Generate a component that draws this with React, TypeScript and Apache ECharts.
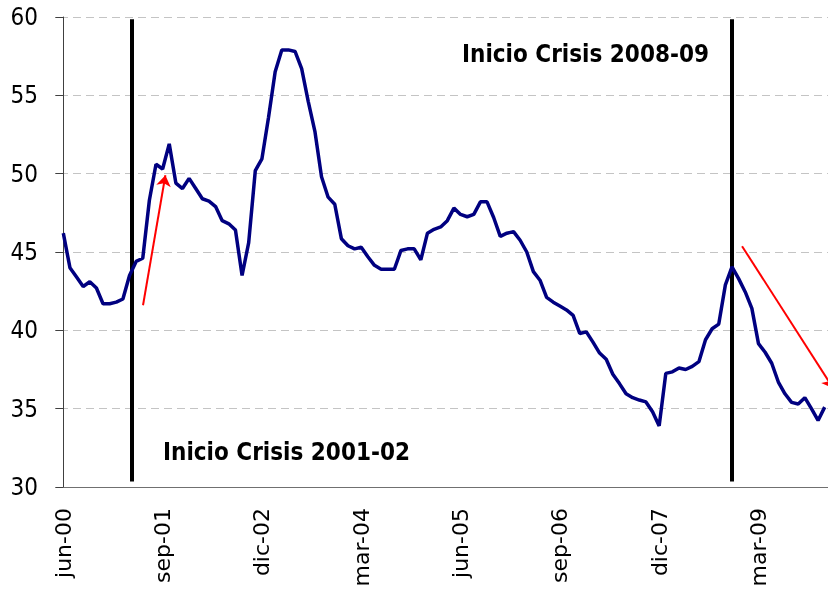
import React, { useEffect, useRef } from "react";
import * as echarts from "echarts";

const monthNames = ["ene", "feb", "mar", "abr", "may", "jun", "jul", "ago", "sep", "oct", "nov", "dic"];
const startYear = 2000;
const startMonth = 5; // jun
const values = [
  46.2, 44.0, 43.4, 42.8, 43.1, 42.7, 41.7, 41.7, 41.8, 42.0,
  43.5, 44.4, 44.6, 48.3, 50.6, 50.3, 51.9, 49.4, 49.05, 49.7,
  49.05, 48.4, 48.25, 47.9, 47.0, 46.8, 46.4, 43.5, 45.6, 50.2,
  50.95, 53.6, 56.5, 57.9, 57.9, 57.8, 56.7, 54.6, 52.7, 49.8,
  48.5, 48.05, 45.85, 45.4, 45.2, 45.3, 44.7, 44.15, 43.9, 43.9,
  43.9, 45.1, 45.2, 45.2, 44.5, 46.2, 46.45, 46.6, 47.0, 47.8,
  47.4, 47.25, 47.4, 48.2, 48.2, 47.2, 46.0, 46.2, 46.3, 45.75,
  45.0, 43.75, 43.2, 42.1, 41.8, 41.55, 41.3, 40.95, 39.8, 39.9,
  39.25, 38.55, 38.15, 37.2, 36.6, 35.95, 35.7, 35.55, 35.43, 34.8,
  33.9, 37.25, 37.35, 37.6, 37.5, 37.7, 38.0, 39.4, 40.1, 40.4,
  42.9, 44.05, 43.3, 42.45, 41.4, 39.15, 38.6, 37.9, 36.7, 35.95,
  35.4, 35.3, 35.7, 35.0, 34.25, 35.1,
];
const categories: string[] = values.map((_, i) => {
  const m = startMonth + i;
  const y = startYear + Math.floor(m / 12);
  return monthNames[m % 12] + "-" + String(y % 100).padStart(2, "0");
});

// crisis start markers (position on the month axis) and their vertical extent
const crisisX = [10.33, 101.0];
const crisisYRange = [59.85, 30.35];
// red trend arrows [x0, y0, x1, y1]
const arrows = [
  [12.04, 41.6, 15.42, 49.9],
  [102.52, 45.37, 116.3, 36.3],
];
const annotations = [
  { text: "Inicio Crisis 2008-09", x: 462, y: 56 },
  { text: "Inicio Crisis 2001-02", x: 163, y: 454 },
];

export default function App() {
  const ref = useRef<HTMLDivElement>(null);
  useEffect(() => {
    if (!ref.current) return;
    const chart = echarts.init(ref.current, null, { renderer: "svg" });
    chart.setOption({
      animation: false,
      grid: { left: 60, top: 17, width: 768, height: 470 },
      xAxis: [
        {
          type: "category",
          data: categories,
          boundaryGap: true,
          axisLine: { lineStyle: { color: "#707070", width: 1 } },
          axisTick: { interval: 14, length: 8, lineStyle: { color: "#707070" } },
          axisLabel: {
            interval: 14,
            rotate: 90,
            margin: 21,
            fontFamily: "DejaVu Sans",
            fontSize: 22,
            color: "#000",
          },
          splitLine: { show: false },
        },
        { type: "value", min: -0.5, max: values.length - 0.5, show: false },
      ],
      yAxis: {
        type: "value",
        min: 30,
        max: 60,
        interval: 5,
        axisLine: { show: true, lineStyle: { color: "#404040", width: 1 } },
        axisTick: { show: true, length: 8, lineStyle: { color: "#404040" } },
        axisLabel: {
          margin: 22,
          fontFamily: "DejaVu Sans Condensed",
          fontSize: 24,
          color: "#000",
        },
        splitLine: { lineStyle: { color: "#c4c4c4", type: [8, 5], width: 1 } },
      },
      series: [
        {
          type: "lines",
          coordinateSystem: "cartesian2d",
          xAxisIndex: 1,
          yAxisIndex: 0,
          symbol: "none",
          lineStyle: { color: "#000", width: 4, opacity: 1 },
          data: crisisX.map((x) => ({ coords: [[x, crisisYRange[0]], [x, crisisYRange[1]]] })),
          z: 3,
        },
        {
          type: "line",
          data: values,
          symbol: "none",
          showSymbol: false,
          lineStyle: { color: "#000080", width: 3.5 },
          z: 4,
        },
        {
          type: "lines",
          coordinateSystem: "cartesian2d",
          xAxisIndex: 1,
          yAxisIndex: 0,
          symbol: ["none", "arrow"],
          symbolSize: 11,
          lineStyle: { color: "#ff0000", width: 2, opacity: 1 },
          data: arrows.map((a) => ({ coords: [[a[0], a[1]], [a[2], a[3]]] })),
          z: 5,
        },
      ],
      graphic: annotations.map((a) => ({
        type: "text",
        left: a.x,
        top: a.y - 14,
        style: {
          text: a.text,
          font: "bold 24px 'DejaVu Sans Condensed'",
          fill: "#000",
        },
        z: 10,
      })),
    });
    return () => chart.dispose();
  }, []);
  return (
    <div
      ref={ref}
      style={{ position: "fixed", left: 0, top: 0, width: 828, height: 591 }}
    />
  );
}
